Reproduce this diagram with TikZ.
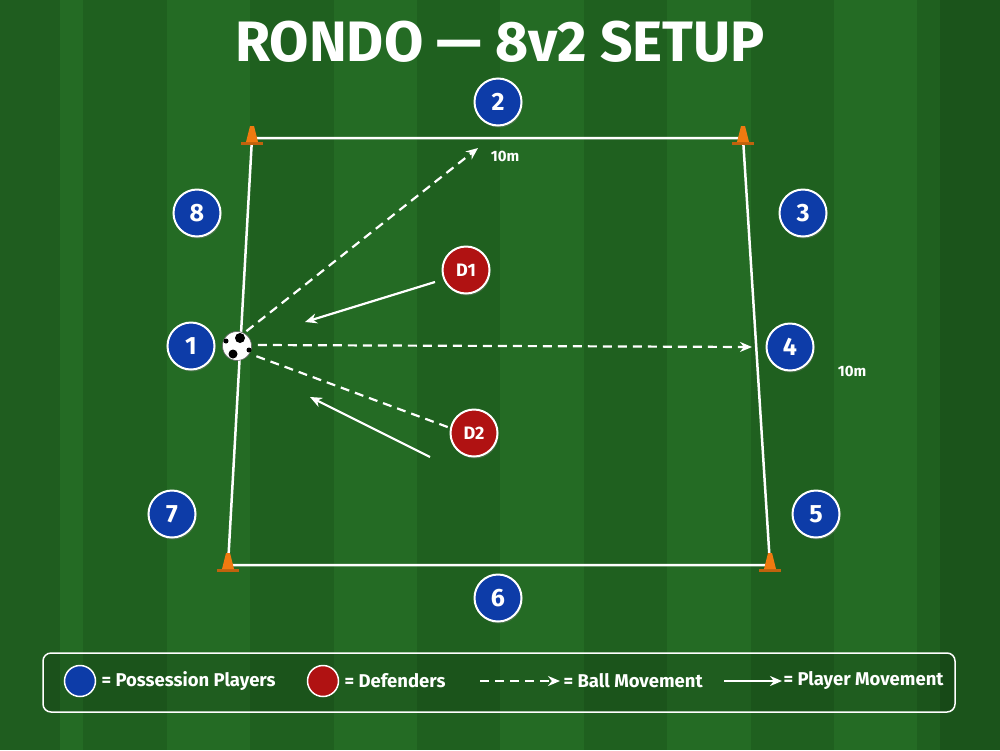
\documentclass[tikz,border=0pt]{standalone}
\usepackage{fontspec}
\setmainfont{Fira Sans}
\usetikzlibrary{arrows.meta,shadows,calc}
\definecolor{grassA}{HTML}{246B24}
\definecolor{grassB}{HTML}{1F601F}
\definecolor{pblue}{HTML}{0D3CA8}
\definecolor{pred}{HTML}{B01212}
\definecolor{cone}{HTML}{F07A10}
\tikzset{
 player/.style={circle,draw=white,line width=2pt,minimum size=47pt,inner sep=0pt,text=white,font=\bfseries\fontsize{25}{25}\selectfont,drop shadow={opacity=0.4,shadow xshift=1pt,shadow yshift=-2pt}},
 poss/.style={player,fill=pblue},
 def/.style={player,fill=pred,font=\bfseries\fontsize{18}{18}\selectfont},
 ballmv/.style={white,line width=2.2pt,dash pattern=on 9pt off 6pt},
 playermv/.style={white,line width=2.2pt},
 tip/.style={-{Stealth[length=12pt,width=10pt]}},
 lbl/.style={text=white,font=\bfseries\fontsize{15}{15}\selectfont},
 leg/.style={text=white,anchor=west,font=\bfseries\fontsize{18.5}{18.5}\selectfont},
 fieldline/.style={white,line width=2.5pt},
}
\begin{document}
\begin{tikzpicture}[x=1pt,y=-1pt]
\useasboundingbox (0,0) rectangle (1000,750);
\fill[grassB] (0,0) rectangle (1000,750);
\foreach \i in {0,2,4,6,8,10}{\fill[grassA] (\i*83.4,0) rectangle ++(83.4,750);}
\fill[black,opacity=0.12] (0,0) rectangle (60,750);
\fill[black,opacity=0.12] (940,0) rectangle (1000,750);
\node[text=white,font=\bfseries\fontsize{57}{57}\selectfont] (title) at (500,42) {RONDO — 8v2 SETUP};
% field
\coordinate (tl) at (252,138); \coordinate (tr) at (743,138);
\coordinate (br) at (770,565); \coordinate (bl) at (228,565);
\draw[fieldline] (tl) -- (tr) -- (br) -- (bl) -- cycle;
\foreach \c in {tl,tr,br,bl}{
 \fill[cone!80!black] ($(\c)+(-11,4)$) rectangle ($(\c)+(11,7)$);
 \fill[cone] ($(\c)+(-6,4)$) -- ($(\c)+(-2,-12)$) -- ($(\c)+(2,-12)$) -- ($(\c)+(6,4)$) -- cycle;
}
% players
\node[poss] (p2) at (498,102) {2};
\node[poss] (p3) at (803,213) {3};
\node[poss] (p4) at (790,347) {4};
\node[poss] (p5) at (816,514) {5};
\node[poss] (p6) at (498,598) {6};
\node[poss] (p7) at (172,514) {7};
\node[poss] (p8) at (197,213) {8};
\node[poss] (p1) at (191,346) {1};
\node[def] (d1) at (466,270) {D1};
\node[def] (d2) at (474,433) {D2};
% ball
\node[circle,fill=white,draw=black!60,line width=0.6pt,minimum size=29pt,inner sep=0pt] (ball) at (237,346) {};
\fill[black] (240,338) circle (5);
\fill[black] (233,354) circle (4.5);
\fill[black] (226,341) circle (2.5);
\fill[black] (249,350) circle (2.5);
% movements
\coordinate (a2) at (478,148);
\coordinate (a4) at (752,347);
\coordinate (s1) at (435,282); \coordinate (e1) at (305,322);
\coordinate (s2) at (430,457); \coordinate (e2) at (310,397);
\draw[ballmv,tip] (ball.60) ++(2,-2) -- (a2);
\draw[ballmv,tip] (ball.east) ++(6,-1) -- (a4);
\draw[ballmv] (ball.-25) ++(6,4) -- (d2.168);
\draw[playermv,tip] (s1) -- (e1);
\draw[playermv,tip] (s2) -- (e2);
\node[lbl] (m1) at (505,156) {10m};
\node[lbl] (m2) at (852,371) {10m};
% legend
\draw[white,line width=1.5pt,rounded corners=8pt,fill=black,fill opacity=0.12] (43,653) rectangle (955,712);
\node[circle,draw=white,line width=1.5pt,fill=pblue,minimum size=31pt,inner sep=0pt] (lb) at (80,681) {};
\node[leg] (lt1) at (98,681) {= Possession Players};
\node[circle,draw=white,line width=1.5pt,fill=pred,minimum size=31pt,inner sep=0pt] (lr) at (323,681) {};
\node[leg] (lt2) at (341,681) {= Defenders};
\coordinate (l1a) at (480,681); \coordinate (l1b) at (560,681);
\draw[ballmv,tip] (l1a) -- (l1b);
\node[leg] (lt3) at (560,681) {= Ball Movement};
\coordinate (l2a) at (724,681); \coordinate (l2b) at (782,681);
\draw[playermv,tip] (l2a) -- (l2b);
\node[leg] (lt4) at (780,681) {= Player Movement};
\end{tikzpicture}
\end{document}
